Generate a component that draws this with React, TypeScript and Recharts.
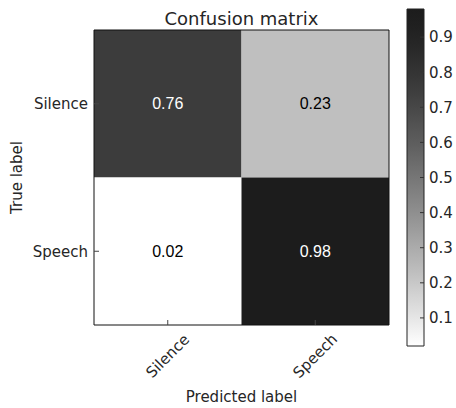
import React from "react";
import { ComposedChart, XAxis, YAxis, ReferenceArea, Label } from "recharts";

// confusion matrix values, rows = true label, cols = predicted label
const classNames = ["Silence", "Speech"];
const matrixRows = [
  [0.76, 0.23],
  [0.02, 0.98],
];
const colorbarTicks = [0.1, 0.2, 0.3, 0.4, 0.5, 0.6, 0.7, 0.8, 0.9];
const colorMin = 0.02;
const colorMax = 0.98;

const FONT = "'DejaVu Sans', sans-serif";
const INK = "#262626";

// reversed gray colormap
const grayFor = (v: number) => {
  const t = (v - colorMin) / (colorMax - colorMin);
  const g = Math.round(28 + 227 * Math.pow(1 - t, 1.34));
  return `rgb(${g},${g},${g})`;
};

const cells = matrixRows.flatMap((row, i) => row.map((v, j) => ({ row: i, col: j, v })));
const thresh = Math.max(...matrixRows.flat()) / 2;

const RotatedTick = (props: any) => {
  const { x, y, payload } = props;
  const cy = y + 31;
  return (
    <text
      x={x}
      y={cy}
      transform={`rotate(-45 ${x} ${cy})`}
      textAnchor="middle"
      dominantBaseline="central"
      fontFamily={FONT}
      fontSize={15}
      fill={INK}
    >
      {classNames[payload.value]}
    </text>
  );
};

const gradientStops = Array.from({ length: 21 }, (_, k) => {
  const o = k / 20;
  const v = colorMax - o * (colorMax - colorMin);
  return <stop key={k} offset={o} stopColor={grayFor(v)} />;
});

export default function App() {
  return (
    <div style={{ position: "absolute", left: 0, top: 0, width: 456, height: 408, background: "#fff" }}>
      <ComposedChart
        width={456}
        height={408}
        data={cells}
        margin={{ top: 29, right: 66, bottom: 0, left: 0 }}
        style={{ position: "absolute", left: 0, top: 0 }}
      >
        <XAxis
          xAxisId="b"
          type="number"
          dataKey="col"
          domain={[-0.5, 1.5]}
          ticks={[0, 1]}
          interval={0}
          height={83}
          axisLine={{ stroke: "#111" }}
          tickLine={{ stroke: "#444" }}
          tickSize={-5}
          tickMargin={5}
          tick={<RotatedTick />}
        >
          <Label value="Predicted label" position="insideBottom" offset={6} fontFamily={FONT} fontSize={15} fill={INK} />
        </XAxis>
        <XAxis
          xAxisId="t"
          orientation="top"
          type="number"
          domain={[-0.5, 1.5]}
          ticks={[0, 1]}
          interval={0}
          height={1}
          axisLine={{ stroke: "#111" }}
          tickLine={{ stroke: "#444" }}
          tickSize={-5}
          tick={false}
        >
          <Label value="Confusion matrix" position="top" offset={4} fontFamily={FONT} fontSize={18} fill={INK} />
        </XAxis>
        <YAxis
          yAxisId="l"
          type="number"
          dataKey="row"
          domain={[-0.5, 1.5]}
          reversed
          ticks={[0, 1]}
          interval={0}
          width={94}
          axisLine={{ stroke: "#111" }}
          tickLine={{ stroke: "#444" }}
          tickSize={-5}
          tickMargin={11}
          tickFormatter={(i: number) => classNames[i]}
          tick={{ fontFamily: FONT, fontSize: 15, fill: INK }}
        >
          <Label
            value="True label"
            angle={-90}
            position="insideLeft"
            offset={17}
            fontFamily={FONT}
            fontSize={15}
            fill={INK}
            style={{ textAnchor: "middle" }}
          />
        </YAxis>
        <YAxis
          yAxisId="r"
          orientation="right"
          type="number"
          domain={[-0.5, 1.5]}
          reversed
          ticks={[0, 1]}
          interval={0}
          width={1}
          axisLine={{ stroke: "#111" }}
          tickLine={{ stroke: "#444" }}
          tickSize={-5}
          tick={false}
        />
        {cells.map((c) => (
          <ReferenceArea
            key={`${c.row}-${c.col}`}
            xAxisId="b"
            yAxisId="l"
            x1={c.col - 0.5}
            x2={c.col + 0.5}
            y1={c.row - 0.5}
            y2={c.row + 0.5}
            fill={grayFor(c.v)}
            fillOpacity={1}
            stroke="none"
            label={{
              value: c.v.toFixed(2),
              position: "center",
              fill: c.v > thresh ? "#ffffff" : "#000000",
              fontSize: 16,
              fontFamily: "'Liberation Sans', Arial, sans-serif",
            }}
          />
        ))}
      </ComposedChart>

      <ComposedChart
        width={456}
        height={408}
        data={colorbarTicks.map((v) => ({ v }))}
        margin={{ top: 9, right: 0, bottom: 62, left: 407 }}
        style={{ position: "absolute", left: 0, top: 0 }}
      >
        <defs>
          <linearGradient id="cbar" x1="0" y1="0" x2="0" y2="1">
            {gradientStops}
          </linearGradient>
        </defs>
        <XAxis type="number" domain={[0, 1]} hide />
        <YAxis
          orientation="right"
          type="number"
          dataKey="v"
          domain={[colorMin, colorMax]}
          ticks={colorbarTicks}
          interval={0}
          width={32}
          axisLine={false}
          tickLine={{ stroke: "#333" }}
          tickSize={-4}
          tickMargin={9}
          tick={{ fontFamily: FONT, fontSize: 15, fill: INK, textAnchor: "start" }}
        />
        <ReferenceArea
          y1={colorMin}
          y2={colorMax}
          fill="url(#cbar)"
          fillOpacity={1}
          stroke="#222"
          strokeWidth={1}
        />
      </ComposedChart>
    </div>
  );
}
